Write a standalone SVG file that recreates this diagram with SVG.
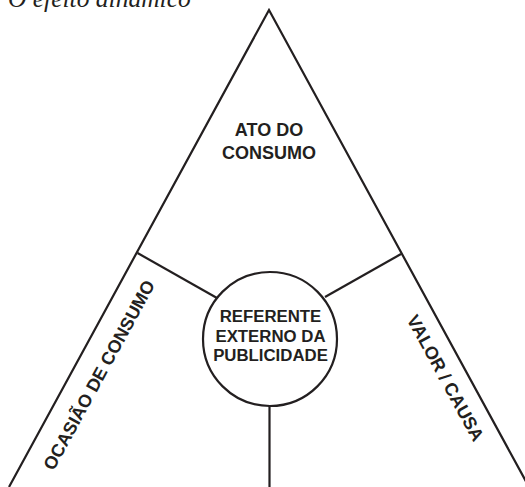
<svg xmlns="http://www.w3.org/2000/svg" width="525" height="487" viewBox="0 0 525 487">
<style>
.ln{fill:none;stroke:#231f20;stroke-width:2.2;stroke-linejoin:miter}
.lb{font-family:"Liberation Sans",Arial,sans-serif;font-weight:bold;font-size:18px;fill:#231f20;text-anchor:middle}
.ttl{font-family:"Liberation Serif","Times New Roman",serif;font-style:italic;font-size:25.5px;fill:#231f20}
</style>
<rect width="525" height="487" fill="#ffffff"/>
<text class="ttl" x="8" y="7">O efeito dinâmico</text>
<g id="connectors">
<path class="ln" d="M9,487 L269,10 L529,487"/>
<line class="ln" x1="137.5" y1="253" x2="217" y2="298"/>
<line class="ln" x1="401" y1="254" x2="325" y2="297"/>
<line class="ln" x1="269.5" y1="406" x2="269.5" y2="487"/>
</g>
<g id="node-ato">
<text class="lb" x="269" y="136">ATO DO</text>
<text class="lb" x="269" y="159">CONSUMO</text>
</g>
<g id="node-referente">
<circle class="ln" cx="270" cy="339" r="67"/>
<text class="lb" x="270.5" y="322" style="font-size:16.8px">REFERENTE</text>
<text class="lb" x="270.5" y="341.5" style="font-size:16.8px">EXTERNO DA</text>
<text class="lb" x="270.5" y="361" style="font-size:16.8px">PUBLICIDADE</text>
</g>
<g id="node-ocasiao">
<text class="lb" transform="translate(104.5,378) rotate(-61.4)">OCASIÃO DE CONSUMO</text>
</g>
<g id="node-valor">
<text class="lb" transform="translate(440,381) rotate(61.4)">VALOR / CAUSA</text>
</g>
</svg>
